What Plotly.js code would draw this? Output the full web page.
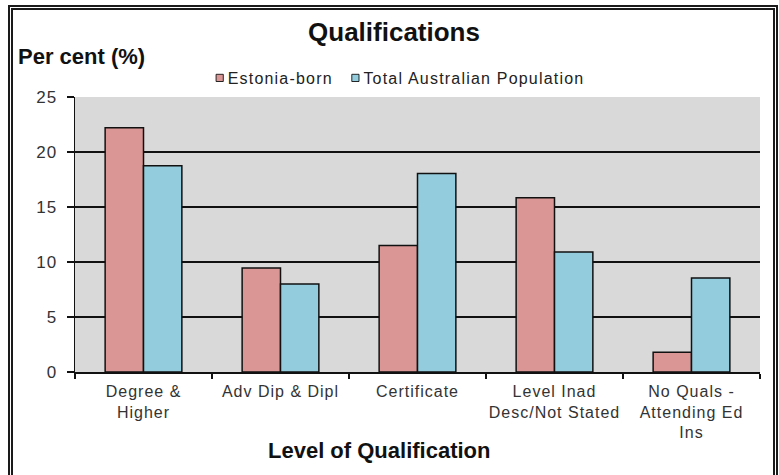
<!DOCTYPE html>
<html>
<head>
<meta charset="utf-8">
<script src="https://cdn.plot.ly/plotly-3.0.1.min.js"></script>
<style>
  html, body { margin: 0; padding: 0; background: #fff; }
  #wrap { position: relative; width: 779px; height: 475px; overflow: hidden; }
  #chart { width: 779px; height: 475px; }
  #frame { position: absolute; left: 8px; top: 5px; width: 770px; height: 490px; box-sizing: border-box;
           border: 5px double #1a1a1a; pointer-events: none; }
  #chart .xtick text, #chart .ytick text { letter-spacing: 1px; }
  #chart .legendtext { letter-spacing: 1.2px; }
  #chart .legend .scrollbox { clip-path: none !important; }
  #chart .legendpoints path { transform-box: fill-box; transform-origin: center; scale: 0.6; translate: 20px 0; }
</style>
</head>
<body>
<div id="wrap">
  <div id="chart"></div>
  <div id="frame"></div>
</div>
<script>
const categories = ["Degree &<br>Higher", "Adv Dip & Dipl", "Certificate", "Level Inad<br>Desc/Not Stated", "No Quals -<br>Attending Ed<br>Ins"];
const estoniaBorn = [22.2, 9.45, 11.5, 15.85, 1.8];
const totalAustralian = [18.75, 8.0, 18.05, 10.9, 8.55];
const seriesNames = ["Estonia-born", "Total Australian Population"];

const font = "'Liberation Sans', Arial, sans-serif";

const traces = [
  { type: "bar", x: categories, y: estoniaBorn, name: seriesNames[0],
    marker: { color: "#DA9694", line: { color: "#111", width: 1.5 } } },
  { type: "bar", x: categories, y: totalAustralian, name: seriesNames[1],
    marker: { color: "#93CDDD", line: { color: "#111", width: 1.5 } } }
];

const layout = {
  width: 779, height: 475,
  margin: { l: 75, r: 19, t: 97, b: 103 },
  paper_bgcolor: "#fff",
  plot_bgcolor: "#D9D9D9",
  font: { family: font, size: 16, color: "#333" },
  barmode: "group",
  bargap: 0.44,
  bargroupgap: 0,
  title: { text: "<b>Qualifications</b>", font: { family: font, size: 26, color: "#111" },
           x: 394 / 779, xref: "container", xanchor: "center",
           y: 1 - 32 / 475, yref: "container", yanchor: "middle" },
  showlegend: true,
  legend: { orientation: "h", x: 0.474 - 27 / 685, xanchor: "center", y: 1 + (97 - 78) / 275, yanchor: "middle",
            font: { family: font, size: 16, color: "#222" }, bgcolor: "rgba(0,0,0,0)",
            traceorder: "normal" },
  xaxis: {
    type: "category",
    showline: true, linecolor: "#111", linewidth: 1.5,
    ticks: "outside", tickson: "boundaries", ticklen: 5, tickcolor: "#111", tickwidth: 1.5,
    showgrid: false,
    tickfont: { family: font, size: 16, color: "#333" },
    ticklabelstandoff: 4,
    fixedrange: true
  },
  yaxis: {
    range: [0, 25], dtick: 5, tick0: 0,
    showline: true, linecolor: "#111", linewidth: 1.5,
    ticks: "outside", ticklen: 7, tickcolor: "#111", tickwidth: 1.5,
    showgrid: true, gridcolor: "#111", gridwidth: 1.5,
    zeroline: false,
    tickfont: { family: font, size: 17, color: "#333" },
    ticklabelstandoff: 6,
    fixedrange: true
  },
  annotations: [
    { text: "<b>Per cent (%)</b>", xref: "paper", yref: "paper",
      x: (16 - 75) / 685, y: 1 + (97 - 57) / 275, xanchor: "left", yanchor: "middle",
      showarrow: false, font: { family: font, size: 22, color: "#111" } },
    { text: "<b>Level of Qualification</b>", xref: "paper", yref: "paper",
      x: (379 - 75) / 685, y: -(450 - 372) / 275, xanchor: "center", yanchor: "middle",
      showarrow: false, font: { family: font, size: 22, color: "#111" } }
  ]
};

Plotly.newPlot("chart", traces, layout, { displayModeBar: false, staticPlot: true });
</script>
</body>
</html>
